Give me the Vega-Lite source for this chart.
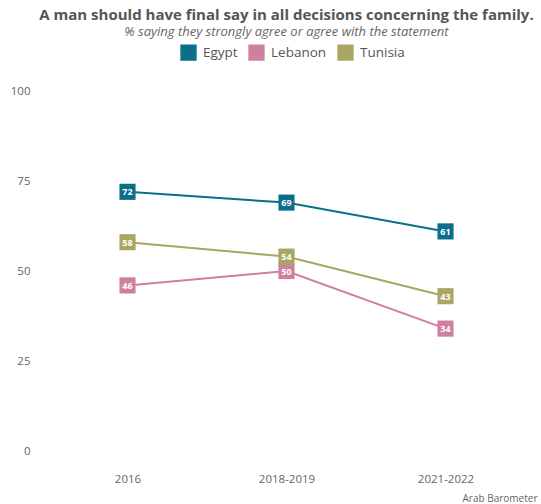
{
  "$schema": "https://vega.github.io/schema/vega-lite/v6.json",
  "width": 477,
  "height": 360,
  "autosize": "none",
  "padding": {"left": 48, "top": 91, "right": 16, "bottom": 53},
  "background": "white",
  "config": {
    "font": "Open Sans",
    "view": {"stroke": null}
  },
  "title": {
    "text": "A man should have final say in all decisions concerning the family.",
    "subtitle": "% saying they strongly agree or agree with the statement",
    "anchor": "middle",
    "frame": "group",
    "offset": 5,
    "fontSize": 15,
    "lineHeight": 15,
    "fontWeight": "bold",
    "color": "#555555",
    "subtitleFontSize": 13,
    "subtitleFontStyle": "italic",
    "subtitleColor": "#666666",
    "subtitlePadding": 3,
    "subtitleLineHeight": 13
  },
  "data": {
    "values": [
      {"country": "Egypt", "wave": "2016", "value": 72},
      {"country": "Egypt", "wave": "2018-2019", "value": 69},
      {"country": "Egypt", "wave": "2021-2022", "value": 61},
      {"country": "Lebanon", "wave": "2016", "value": 46},
      {"country": "Lebanon", "wave": "2018-2019", "value": 50},
      {"country": "Lebanon", "wave": "2021-2022", "value": 34},
      {"country": "Tunisia", "wave": "2016", "value": 58},
      {"country": "Tunisia", "wave": "2018-2019", "value": 54},
      {"country": "Tunisia", "wave": "2021-2022", "value": 43}
    ]
  },
  "encoding": {
    "x": {
      "field": "wave",
      "type": "ordinal",
      "scale": {"type": "point", "padding": 0.5},
      "axis": {
        "labelAngle": 0,
        "domain": false,
        "ticks": false,
        "labelPadding": 22,
        "labelFontSize": 11.5,
        "labelColor": "#666666",
        "title": "Arab Barometer",
        "titleAnchor": "end",
        "titleAlign": "right",
        "titleBaseline": "alphabetic",
        "titleX": 489,
        "titleY": 50,
        "titleFontSize": 10,
        "titleFontWeight": "normal",
        "titleColor": "#666666"
      }
    },
    "y": {
      "field": "value",
      "type": "quantitative",
      "scale": {"domain": [0, 100]},
      "axis": {
        "values": [0, 25, 50, 75, 100],
        "grid": false,
        "domain": false,
        "ticks": false,
        "labelPadding": 18,
        "labelFontSize": 11.5,
        "labelColor": "#666666",
        "title": null
      }
    },
    "color": {
      "field": "country",
      "type": "nominal",
      "scale": {"domain": ["Egypt", "Lebanon", "Tunisia"], "range": ["#0b6f8b", "#cf7fa0", "#a9a663"]},
      "legend": {
        "title": null,
        "orient": "none",
        "direction": "horizontal",
        "legendX": 132,
        "legendY": -47,
        "symbolType": "square",
        "symbolSize": 220,
        "symbolOpacity": 1,
        "labelFontSize": 13.5,
        "labelColor": "#555555",
        "columnPadding": 8,
        "labelOffset": 6
      }
    }
  },
  "layer": [
    {"mark": {"type": "line", "strokeWidth": 2}},
    {"mark": {"type": "point", "shape": "square", "filled": true, "size": 260, "opacity": 1}},
    {
      "mark": {"type": "text", "color": "white", "fontSize": 9, "fontWeight": "bold", "baseline": "middle", "dy": 0.5},
      "encoding": {"text": {"field": "value", "type": "quantitative"}, "color": {"value": "white"}}
    }
  ]
}
